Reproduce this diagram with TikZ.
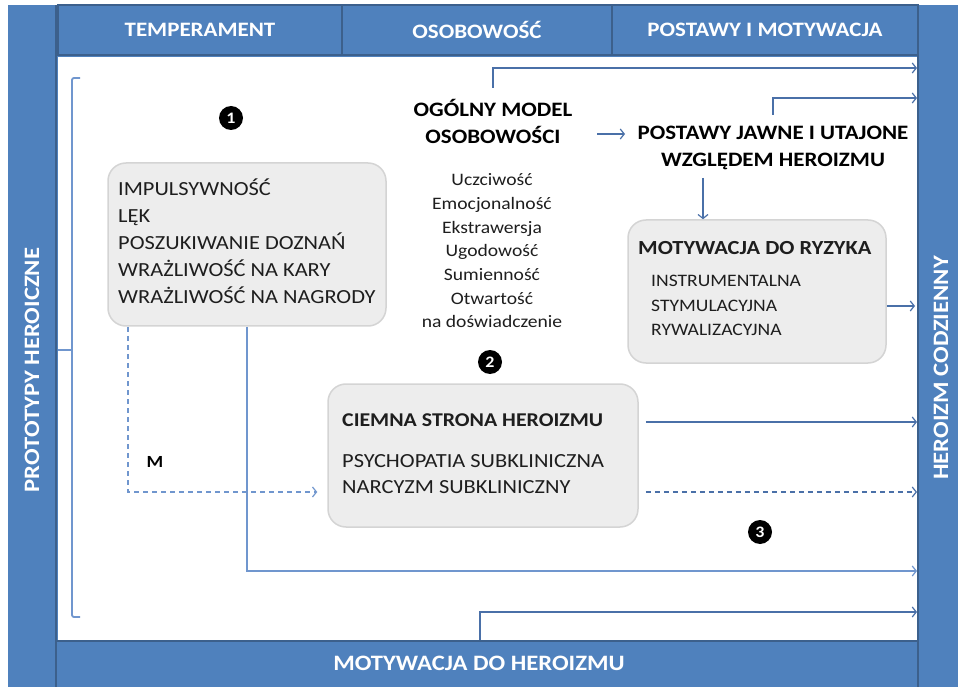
\documentclass[tikz,border=0pt]{standalone}
\usepackage{fontspec}
\setmainfont{Carlito}[FakeStretch=1.12]
\usetikzlibrary{arrows.meta,positioning}

\definecolor{barblue}{RGB}{79,129,189}
\definecolor{bardark}{RGB}{60,96,140}
\definecolor{linecol}{RGB}{74,112,168}
\definecolor{linelt}{RGB}{112,150,206}
\definecolor{boxfill}{RGB}{237,237,237}
\definecolor{boxline}{RGB}{212,212,212}
\definecolor{txtcol}{RGB}{30,30,30}

\tikzset{
  hdr/.style={rectangle, fill=barblue, draw=bardark, line width=1.6pt, text=white,
    font=\fontsize{20.5}{24}\selectfont\bfseries, inner sep=0pt},
  sidetxt/.style={text=white, font=\fontsize{22}{26}\selectfont\bfseries, rotate=90},
  box/.style={rectangle, rounded corners=18pt, fill=boxfill, draw=boxline,
    line width=1.5pt, inner sep=0pt},
  boxtxt/.style={font=\fontsize{20}{27}\selectfont, text=txtcol, align=left,
    inner sep=0pt, anchor=base west},
  num/.style={circle, fill=black, text=white, inner sep=0pt, minimum size=24pt,
    font=\fontsize{16}{16}\selectfont\bfseries},
  link/.style={draw=linecol, line width=1.2pt, -{Straight Barb[length=4pt,width=10pt]}},
  linklt/.style={link, draw=linelt},
  dashlink/.style={link, dash pattern=on 5pt off 4pt},
}

\begin{document}
\begin{tikzpicture}[x=1pt,y=-1pt]
  \useasboundingbox (0,0) rectangle (962,687);

  % frame
  \fill[barblue] (8,5) rectangle (958,687);
  \draw[bardark, line width=1.6pt] (56,5) -- (56,687);
  \fill[white] (58,57) rectangle (918,640);
  \draw[bardark, line width=1.6pt] (918,5) -- (918,687);
  \draw[bardark, line width=1.6pt] (56,641) -- (918,641);

  \node[hdr, minimum width=284pt, minimum height=50pt] (htemp) at (200,30) {TEMPERAMENT};
  \node[hdr, minimum width=270pt, minimum height=50pt] (hosob) at (477,30) {OSOBOWOŚĆ};
  \node[hdr, minimum width=306pt, minimum height=50pt] (hpost) at (765,30) {POSTAWY I MOTYWACJA};
  \node[text=white, font=\fontsize{22}{24}\selectfont\bfseries] (hmot) at (479,663) {MOTYWACJA DO HEROIZMU};

  \node[sidetxt] (proto) at (32,370) {PROTOTYPY HEROICZNE};
  \node[sidetxt] (codz) at (941,368) {HEROIZM CODZIENNY};

  % bracket
  \draw[linelt, line width=1.8pt, rounded corners=2pt] (80,78) -- (72,78) -- (72,617) -- (80,617);
  \draw[linelt, line width=1.8pt] (58,350) -- (72,350);

  % boxes
  \node[box, minimum width=278pt, minimum height=163pt] (temp) at (247,244.5) {};
  \node[box, minimum width=258pt, minimum height=143pt] (ryz) at (757,291.5) {};
  \node[box, minimum width=310pt, minimum height=143pt] (ciem) at (483,455.5) {};

  % base of a multi-line node = its last line
  \node[boxtxt] (templist) at (118,303.5)
    {IMPULSYWNOŚĆ\\LĘK\\POSZUKIWANIE DOZNAŃ\\WRAŻLIWOŚĆ NA KARY\\WRAŻLIWOŚĆ NA NAGRODY};

  \node[font=\fontsize{20.5}{27}\selectfont\bfseries, align=center, inner sep=0pt,
    anchor=base] (ogol) at (493,143.6) {OGÓLNY MODEL\\OSOBOWOŚCI};
  \node[font=\fontsize{17.5}{23.7}\selectfont, text=txtcol, align=center, inner sep=0pt,
    anchor=base] (cechy) at (492,327.8)
    {Uczciwość\\Emocjonalność\\Ekstrawersja\\Ugodowość\\Sumienność\\Otwartość\\na doświadczenie};
  \node[font=\fontsize{20.5}{27}\selectfont\bfseries, align=center, inner sep=0pt,
    anchor=base] (post) at (773,166.6) {POSTAWY JAWNE I UTAJONE\\WZGLĘDEM HEROIZMU};

  \node[boxtxt, font=\fontsize{20}{27}\selectfont\bfseries] (ryztit) at (638,254.5) {MOTYWACJA DO RYZYKA};
  \node[boxtxt, font=\fontsize{17.5}{24.5}\selectfont] (ryzlist) at (651,335.6)
    {INSTRUMENTALNA\\STYMULACYJNA\\RYWALIZACYJNA};

  \node[boxtxt, font=\fontsize{19.5}{27}\selectfont\bfseries] (ciemtit) at (342,426.3) {CIEMNA STRONA HEROIZMU};
  \node[boxtxt, font=\fontsize{20}{26}\selectfont] (ciemlist) at (342,493.5)
    {PSYCHOPATIA SUBKLINICZNA\\NARCYZM SUBKLINICZNY};

  \node[font=\fontsize{17}{20}\selectfont\bfseries] (m) at (155,462) {M};

  \node[num] (n1) at (231,118) {1};
  \node[num] (n2) at (490,362) {2};
  \node[num] (n3) at (760,532) {3};

  % connector ends
  \coordinate (s1) at (493,88);   \coordinate (e1) at (917,68);
  \coordinate (s2) at (773,115);  \coordinate (e2) at (917,98);
  \coordinate (s3) at (597,134);  \coordinate (e3) at (625,134);
  \coordinate (s4) at (703,178);
  \coordinate (e5) at (915,306);
  \coordinate (e6) at (917,422);
  \coordinate (e7) at (917,492);
  \coordinate (s8) at (128,327);
  \coordinate (s9) at (247,327);  \coordinate (e9) at (917,571);
  \coordinate (s10) at (480,640); \coordinate (e10) at (917,612);

  \draw[link] (s1) |- (e1);
  \draw[link] (s2) |- (e2);
  \draw[link] (s3) -- (e3);
  \draw[link] (s4) -- (s4 |- ryz.north);
  \draw[link] (ryz.east |- e5) -- (e5);
  \draw[link] ([xshift=7pt]ciem.east |- e6) -- (e6);
  \draw[dashlink] ([xshift=7pt]ciem.east |- e7) -- (e7);
  \draw[linklt, dash pattern=on 5pt off 4pt] (s8) |- ([xshift=-10pt]ciem.west |- e7);
  \draw[linklt] (s9) |- (e9);
  \draw[link] (s10) |- (e10);
\end{tikzpicture}
\end{document}
